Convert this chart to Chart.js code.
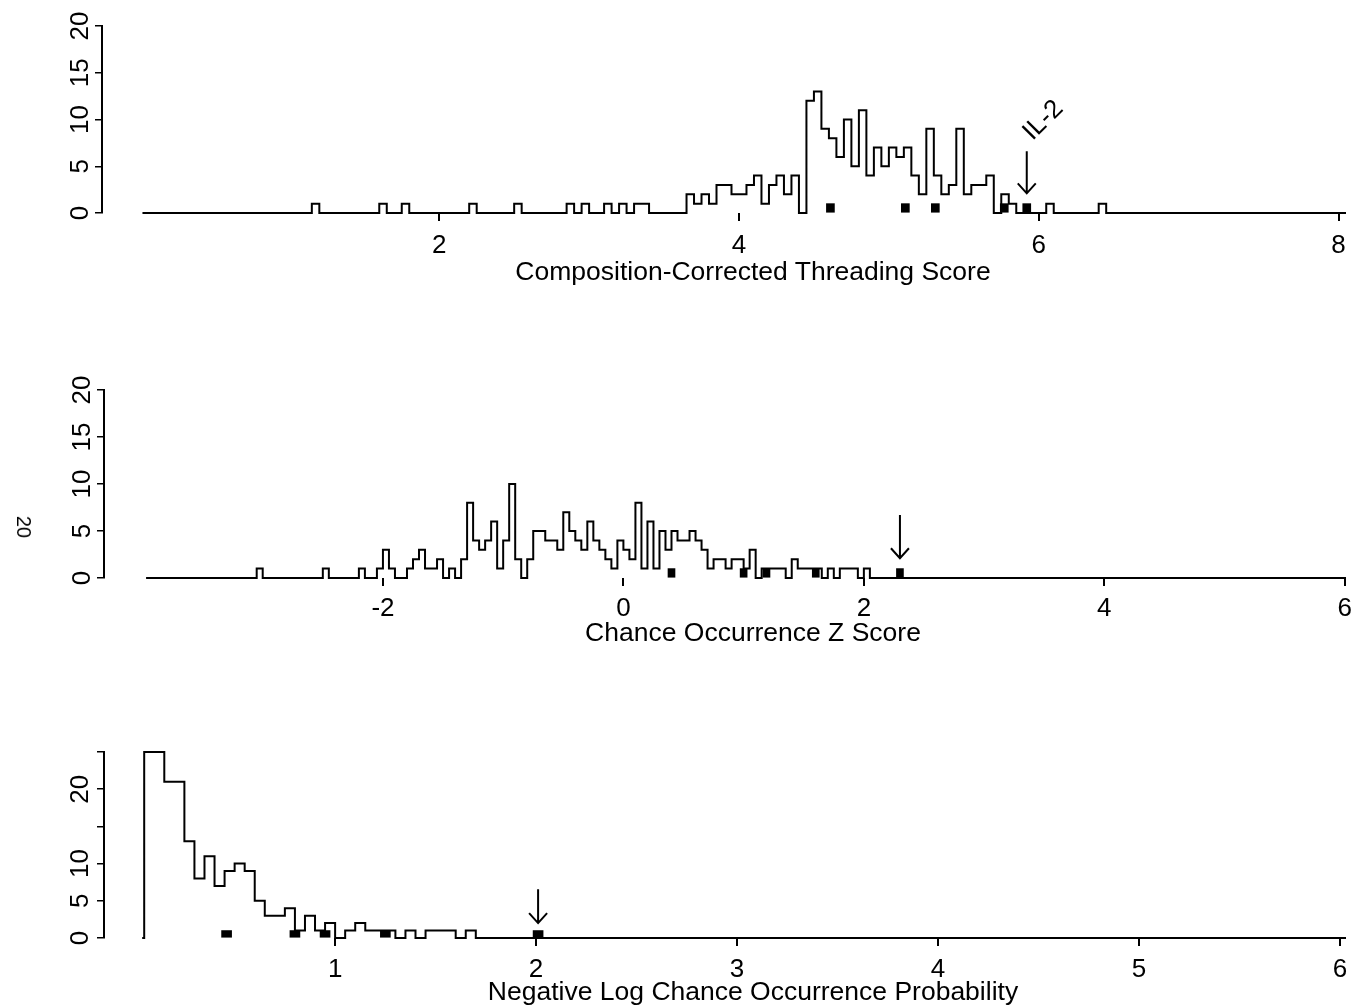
<!DOCTYPE html>
<html>
<head>
<meta charset="utf-8">
<script src="https://cdn.jsdelivr.net/npm/chart.js@4.4.1/dist/chart.umd.min.js"></script>
<style>
  body { margin: 0; background: #fff; }
  #page { position: relative; width: 1353px; height: 1005px; overflow: hidden;
          font-family: "Liberation Sans", Arial, sans-serif; color: #000; background: #fff; }
  canvas { position: absolute; left: 0; }
  #c1 { top: 0; }
  #c2 { top: 330px; }
  #c3 { top: 700px; }
  .xtitle { position: absolute; left: 753px; transform: translateX(-50%);
            font-size: 26.5px; line-height: 1; white-space: nowrap; }
  #t1 { top: 258px; }
  #t2 { top: 619px; }
  #t3 { top: 978px; }
  #pageno { position: absolute; left: 24px; top: 527px; font-size: 20px; line-height: 1;
            transform: translate(-50%, -50%) rotate(90deg); }
</style>
</head>
<body>
<div id="page">
  <canvas id="c1" width="1353" height="263"></canvas>
  <canvas id="c2" width="1353" height="298"></canvas>
  <canvas id="c3" width="1353" height="288"></canvas>
  <div class="xtitle" id="t1">Composition-Corrected Threading Score</div>
  <div class="xtitle" id="t2">Chance Occurrence Z Score</div>
  <div class="xtitle" id="t3">Negative Log Chance Occurrence Probability</div>
  <div id="pageno">20</div>
</div>
<script>
const binWidth = 0.05;

// panel 1: composition-corrected threading score
const p1XRange = [-0.25, 8.05];
const p1XTicks = [2, 4, 6, 8];
const p1YTicks = [0, 5, 10, 15, 20];
const p1YLabels = ["0", "5", "10", "15", "20"];
const p1Baseline = [0.02, 8.05];
const p1Singles = [1.15, 1.60, 1.75, 2.20, 2.50, 2.85, 2.95, 3.10, 3.20, 3.30, 3.35, 6.05, 6.40];
const p1Start = 3.65;
const p1Counts = [2, 1, 2, 1, 3, 3, 2, 2, 3, 4, 1, 3, 4, 2, 4, 0, 12, 13, 9, 8,
                  6, 10, 5, 11, 4, 7, 5, 7, 6, 7, 4, 2, 9, 4, 2, 3, 9, 2, 3, 3,
                  4, 0, 2, 1];
const p1Marked = [4.61, 5.11, 5.31, 5.77, 5.92];
const p1Arrow = [5.92, 6.6, 2.1];
const p1Note = ["IL-2", 6.03, 9.9];

// panel 2: chance occurrence z score
const p2XRange = [-4.32, 6.01];
const p2XTicks = [-2, 0, 2, 4, 6];
const p2YTicks = [0, 5, 10, 15, 20];
const p2YLabels = ["0", "5", "10", "15", "20"];
const p2Baseline = [-3.97, 6.01];
const p2Singles = [-3.05, -2.50, -2.20];
const p2Start = -2.05;
const p2Counts = [1, 3, 1, 0, 0, 1, 2, 3, 1, 1, 2, 0, 1, 0, 2, 8, 4, 3, 4, 6,
                  1, 4, 10, 2, 0, 2, 5, 5, 4, 4, 3, 7, 5, 4, 3, 6, 4, 3, 2, 1,
                  4, 3, 2, 8, 1, 6, 1, 5, 3, 5, 4, 4, 5, 4, 3, 1, 2, 2, 1, 2,
                  2, 1, 3, 0, 1, 1, 1, 1, 0, 2, 1, 1, 1, 1, 0, 1, 0, 1, 1, 1,
                  0, 1];
const p2Marked = [0.40, 1.00, 1.19, 1.60, 2.30];
const p2Arrow = [2.30, 6.7, 2.1];

// panel 3: negative log chance occurrence probability
const p3XRange = [-0.15, 6.03];
const p3XTicks = [1, 2, 3, 4, 5, 6];
const p3YTicks = [0, 5, 10, 15, 20, 25];
const p3YLabels = ["0", "5", "10", "", "20", ""];
const p3Baseline = [0.04, 6.03];
const p3Singles = [];
const p3Start = 0.05;
const p3Counts = [25, 25, 21, 21, 13, 8, 11, 7, 9, 10, 9, 5, 3, 3, 4, 1, 3, 1, 2, 0,
                  1, 2, 1, 1, 1, 0, 1, 0, 1, 1, 1, 0, 1];
const p3Marked = [0.46, 0.80, 0.95, 1.25, 2.01];
const p3Arrow = [2.01, 6.55, 2.0];

// step outline of a histogram, running along the zero line between baseline ends
function histPoints(baseline, start, counts, singles) {
  const bins = new Map();
  const k0 = Math.round(start / binWidth);
  counts.forEach((c, i) => bins.set(k0 + i, c));
  singles.forEach(s => bins.set(Math.round(s / binWidth), 1));
  const keys = [...bins.keys()];
  const lo = Math.min(...keys), hi = Math.max(...keys);
  const pts = [{ x: baseline[0], y: 0 }];
  for (let k = lo; k <= hi; k++) pts.push({ x: k * binWidth, y: bins.get(k) || 0 });
  pts.push({ x: (hi + 1) * binWidth, y: 0 });
  pts.push({ x: baseline[1], y: 0 });
  return pts;
}

const arrowPlugin = {
  id: "arrows",
  afterDatasetsDraw(chart, args, opts) {
    const { ctx, scales: { x, y } } = chart;
    const ax = x.getPixelForValue(opts.arrow[0]);
    const top = y.getPixelForValue(opts.arrow[1]);
    const tip = y.getPixelForValue(opts.arrow[2]);
    ctx.save();
    ctx.strokeStyle = "#000";
    ctx.lineWidth = 2;
    ctx.beginPath();
    ctx.moveTo(ax, top);
    ctx.lineTo(ax, tip);
    ctx.moveTo(ax - 9, tip - 10);
    ctx.lineTo(ax, tip);
    ctx.lineTo(ax + 9, tip - 10);
    ctx.stroke();
    if (opts.note) {
      ctx.translate(x.getPixelForValue(opts.note[1]), y.getPixelForValue(opts.note[2]));
      ctx.rotate(-Math.PI / 4);
      ctx.fillStyle = "#000";
      ctx.font = '26px "Liberation Sans", Arial, sans-serif';
      ctx.textAlign = "center";
      ctx.textBaseline = "middle";
      ctx.fillText(opts.note[0], 0, 0);
    }
    ctx.restore();
  }
};

function makePanel(id, p) {
  return new Chart(document.getElementById(id), {
    type: "line",
    data: {
      datasets: [
        {
          data: histPoints(p.baseline, p.start, p.counts, p.singles),
          stepped: true,
          borderColor: "#000",
          borderWidth: 2,
          pointRadius: 0,
          fill: false,
          clip: false,
          order: 1
        },
        {
          type: "bar",
          data: p.marked.map(v => ({ x: v, y: 1 })),
          backgroundColor: "#000",
          borderWidth: 0,
          barThickness: p.barPx,
          order: 0
        }
      ]
    },
    options: {
      responsive: false,
      animation: false,
      devicePixelRatio: 1,
      layout: { padding: { top: p.padTop, right: 7, left: 0, bottom: 0 } },
      plugins: {
        legend: { display: false },
        tooltip: { enabled: false },
        arrows: { arrow: p.arrow, note: p.note }
      },
      scales: {
        x: {
          type: "linear",
          offset: false,
          min: p.xRange[0],
          max: p.xRange[1],
          afterBuildTicks: s => { s.ticks = p.xTicks.map(v => ({ value: v })); },
          afterFit: s => { s.height = 50; s.paddingLeft = 0; s.paddingRight = 0; },
          border: { display: false },
          grid: { offset: false, drawOnChartArea: false, drawTicks: true, tickLength: 8, color: "#000", lineWidth: 2 },
          ticks: {
            color: "#000",
            padding: p.xPad,
            maxRotation: 0,
            font: { family: '"Liberation Sans", Arial, sans-serif', size: 26 },
            callback: v => String(v)
          }
        },
        y: {
          min: 0,
          max: p.yTicks[p.yTicks.length - 1],
          afterBuildTicks: s => { s.ticks = p.yTicks.map(v => ({ value: v })); },
          afterFit: s => { s.width = p.yWidth; s.paddingTop = 0; s.paddingBottom = 0; },
          border: { display: true, color: "#000", width: 2 },
          grid: { drawOnChartArea: false, drawTicks: true, tickLength: 7, color: "#000", lineWidth: 1.5 },
          ticks: {
            color: "#000",
            padding: p.yPad,
            minRotation: 90,
            maxRotation: 90,
            crossAlign: "center",
            font: { family: '"Liberation Sans", Arial, sans-serif', size: 26 },
            callback: (v, i) => p.yLabels[i]
          }
        }
      }
    },
    plugins: [arrowPlugin]
  });
}

makePanel("c1", {
  xRange: p1XRange, xTicks: p1XTicks, yTicks: p1YTicks, yLabels: p1YLabels,
  baseline: p1Baseline, start: p1Start, counts: p1Counts, singles: p1Singles,
  marked: p1Marked, arrow: p1Arrow, note: p1Note,
  padTop: 26, yWidth: 102, xPad: 9, yPad: 0, barPx: 8
});
makePanel("c2", {
  xRange: p2XRange, xTicks: p2XTicks, yTicks: p2YTicks, yLabels: p2YLabels,
  baseline: p2Baseline, start: p2Start, counts: p2Counts, singles: p2Singles,
  marked: p2Marked, arrow: p2Arrow, note: null,
  padTop: 60, yWidth: 104, xPad: 7, yPad: 0, barPx: 7
});
makePanel("c3", {
  xRange: p3XRange, xTicks: p3XTicks, yTicks: p3YTicks, yLabels: p3YLabels,
  baseline: p3Baseline, start: p3Start, counts: p3Counts, singles: p3Singles,
  marked: p3Marked, arrow: p3Arrow, note: null,
  padTop: 52, yWidth: 104, xPad: 8, yPad: 2, barPx: 10
});
</script>
</body>
</html>
